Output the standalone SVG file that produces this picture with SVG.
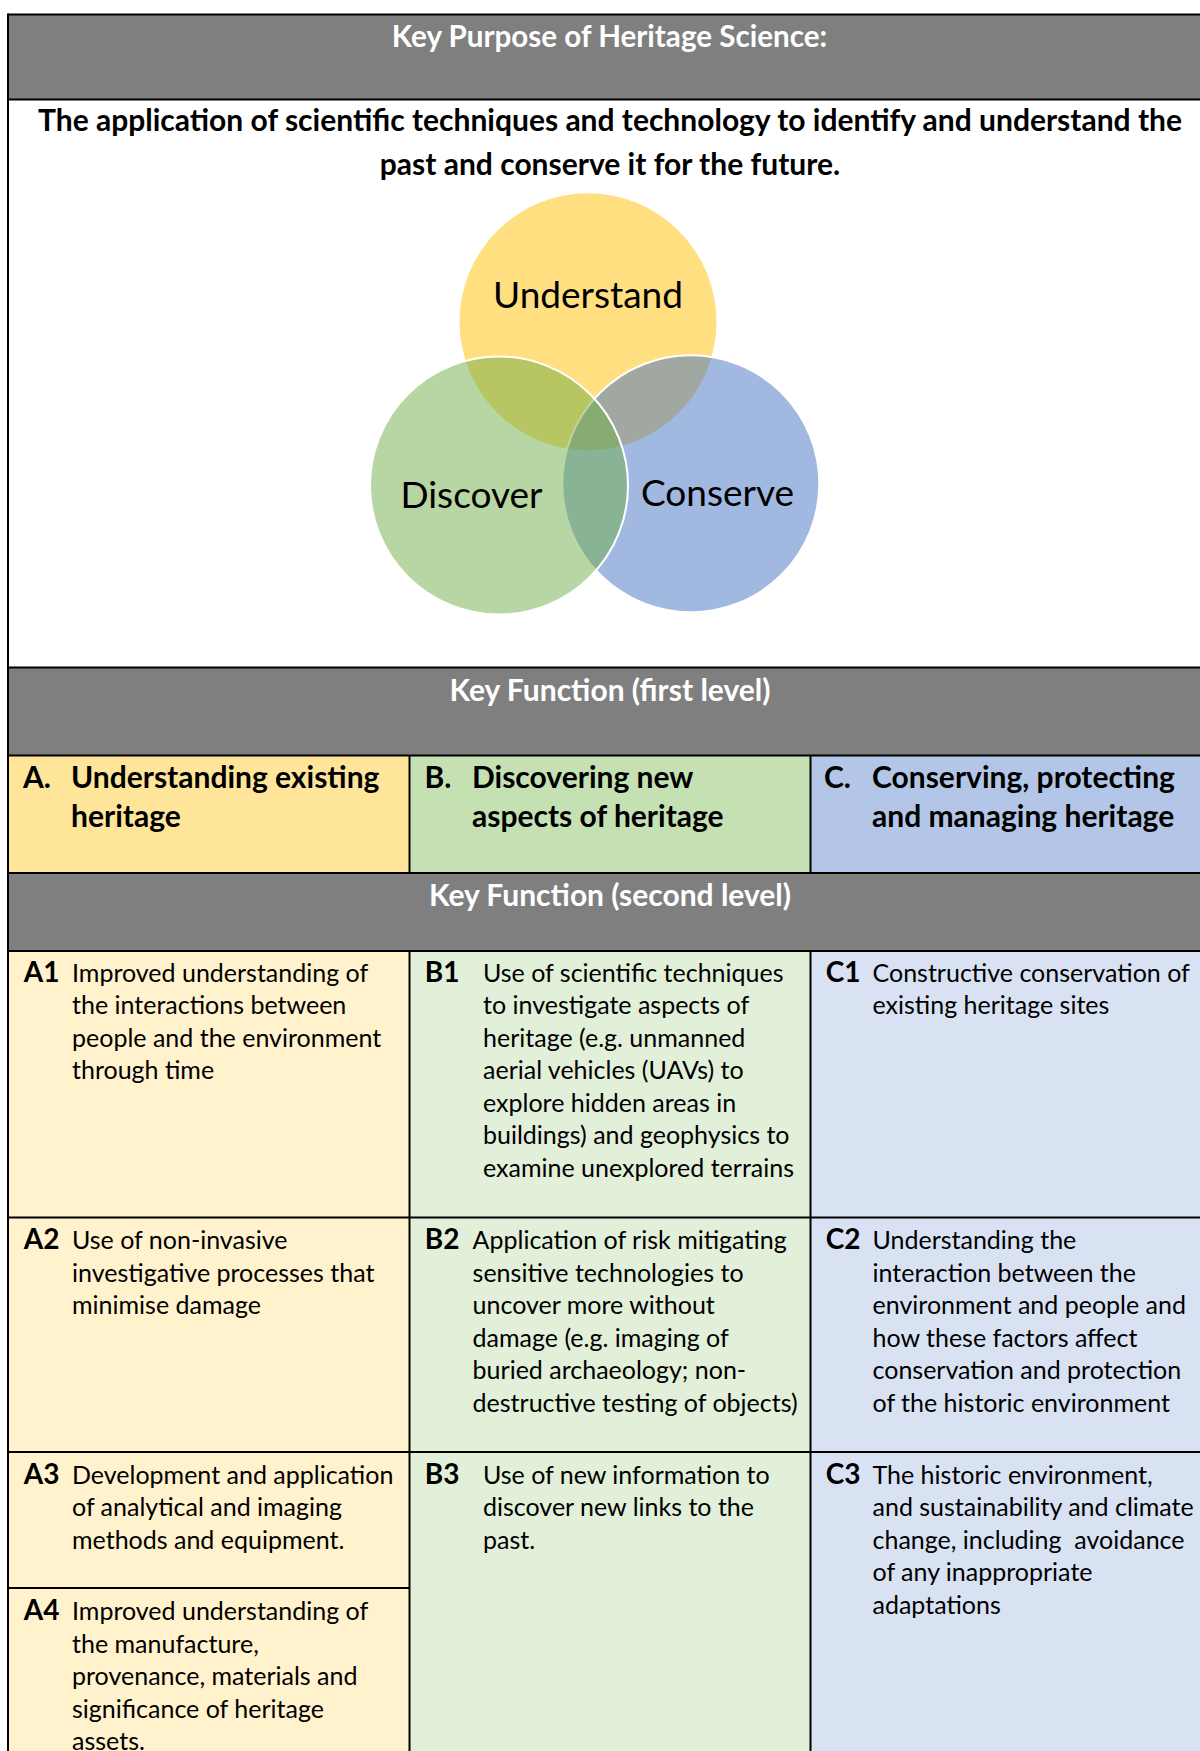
<svg xmlns="http://www.w3.org/2000/svg" width="1200" height="1751" viewBox="0 0 1200 1751">
  <style>
    text { font-family: Lato, "Open Sans", "Liberation Sans", sans-serif; fill: #000; }
    .hdr { font-weight: 700; font-size: 30px; fill: #fff; text-anchor: middle; }
    .stmt { font-weight: 700; font-size: 30px; text-anchor: middle; }
    .venn { font-size: 37px; text-anchor: middle; }
    .kf { font-weight: 700; font-size: 30px; }
    .lbl { font-weight: 700; font-size: 28px; }
    .body { font-size: 25px; }
    .pre { white-space: pre; }
    .grid { stroke: #000; stroke-width: 2; fill: none; }
    .arc { stroke: #fff; stroke-width: 2; }
  </style>

  <!-- Row fills -->
  <g id="fills">
    <rect x="8" y="14.5" width="1192" height="85" fill="#7f7f7f"/>
    <rect x="8" y="99.5" width="1192" height="568" fill="#fff"/>
    <rect x="8" y="667.5" width="1192" height="88" fill="#7f7f7f"/>
    <rect x="8" y="755.5" width="401.5" height="117.5" fill="#ffe599"/>
    <rect x="409.5" y="755.5" width="401" height="117.5" fill="#c5e0b3"/>
    <rect x="810.5" y="755.5" width="389.5" height="117.5" fill="#b4c6e7"/>
    <rect x="8" y="873" width="1192" height="78" fill="#7f7f7f"/>
    <rect x="8" y="951" width="401.5" height="800" fill="#fff2cc"/>
    <rect x="409.5" y="951" width="401" height="800" fill="#e2efd9"/>
    <rect x="810.5" y="951" width="389.5" height="800" fill="#d9e2f3"/>
  </g>

  <!-- Table rules -->
  <g id="connectors" class="grid">
    <line x1="8" y1="14.5" x2="1200" y2="14.5"/>
    <line x1="8" y1="99.5" x2="1200" y2="99.5"/>
    <line x1="8" y1="667.5" x2="1200" y2="667.5"/>
    <line x1="8" y1="755.5" x2="1200" y2="755.5"/>
    <line x1="8" y1="873" x2="1200" y2="873"/>
    <line x1="8" y1="951" x2="1200" y2="951"/>
    <line x1="8" y1="1217.5" x2="1200" y2="1217.5"/>
    <line x1="8" y1="1452" x2="1200" y2="1452"/>
    <line x1="8" y1="1588" x2="409.5" y2="1588"/>
    <line x1="8" y1="13.5" x2="8" y2="1751"/>
    <line x1="409.5" y1="755.5" x2="409.5" y2="873"/>
    <line x1="810.5" y1="755.5" x2="810.5" y2="873"/>
    <line x1="409.5" y1="951" x2="409.5" y2="1751"/>
    <line x1="810.5" y1="951" x2="810.5" y2="1751"/>
  </g>

  <!-- Key purpose -->
  <g id="purpose">
    <text class="hdr" x="609.5" y="46.5" style="font-size:29.6px">Key Purpose of Heritage Science:</text>
    <text class="stmt" x="610" y="131">The application of scientific techniques and technology to identify and understand the</text>
    <text class="stmt" x="610" y="175">past and conserve it for the future.</text>
  </g>

  <!-- Venn diagram: Understand, Conserve, Discover (stacked, half transparent) -->
  <g id="venn">
    <g id="understand">
      <circle cx="588" cy="321.8" r="128.5" fill="#ffc000" fill-opacity="0.5"/>
    </g>
    <g id="conserve">
      <circle class="arc" cx="690.8" cy="483.7" r="128.5" fill="#4472c4" fill-opacity="0.5"/>
    </g>
    <g id="discover">
      <circle class="arc" cx="499" cy="485.5" r="129" fill="#70ad47" fill-opacity="0.5"/>
    </g>
    <text class="venn" x="588" y="308">Understand</text>
    <text class="venn" x="471.5" y="508">Discover</text>
    <text class="venn" x="717.5" y="506">Conserve</text>
  </g>

  <!-- First level functions -->
  <g id="first-level">
    <text class="hdr" x="610" y="701">Key Function (first level)</text>
    <g id="func-a">
      <text class="kf" x="23" y="787.5">A.</text>
      <text class="kf" x="71" y="787.5">Understanding existing</text>
      <text class="kf" x="71" y="826.5">heritage</text>
    </g>
    <g id="func-b">
      <text class="kf" x="424.6" y="787.5">B.</text>
      <text class="kf" x="472" y="787.5">Discovering new</text>
      <text class="kf" x="472" y="826.5">aspects of heritage</text>
    </g>
    <g id="func-c">
      <text class="kf" x="824" y="787.5">C.</text>
      <text class="kf" x="872" y="787.5">Conserving, protecting</text>
      <text class="kf" x="872" y="826.5">and managing heritage</text>
    </g>
  </g>

  <!-- Second level functions -->
  <g id="second-level">
    <text class="hdr" x="610" y="906">Key Function (second level)</text>

    <g id="a1">
      <text class="lbl" x="23.7" y="981.5">A1</text>
      <text class="body" x="72" y="981.5">Improved understanding of</text>
      <text class="body" x="72" y="1014">the interactions between</text>
      <text class="body" x="72" y="1046.5">people and the environment</text>
      <text class="body" x="72" y="1079">through time</text>
    </g>
    <g id="b1">
      <text class="lbl" x="424.8" y="981.5">B1</text>
      <text class="body" x="483" y="981.5">Use of scientific techniques</text>
      <text class="body" x="483" y="1014">to investigate aspects of</text>
      <text class="body" x="483" y="1046.5">heritage (e.g. unmanned</text>
      <text class="body" x="483" y="1079">aerial vehicles (UAVs) to</text>
      <text class="body" x="483" y="1111.5">explore hidden areas in</text>
      <text class="body" x="483" y="1144">buildings) and geophysics to</text>
      <text class="body" x="483" y="1176.5">examine unexplored terrains</text>
    </g>
    <g id="c1">
      <text class="lbl" x="825.8" y="981.5">C1</text>
      <text class="body" x="872.5" y="981.5">Constructive conservation of</text>
      <text class="body" x="872.5" y="1014">existing heritage sites</text>
    </g>

    <g id="a2">
      <text class="lbl" x="23.7" y="1249">A2</text>
      <text class="body" x="72" y="1249">Use of non-invasive</text>
      <text class="body" x="72" y="1281.5">investigative processes that</text>
      <text class="body" x="72" y="1314">minimise damage</text>
    </g>
    <g id="b2">
      <text class="lbl" x="424.8" y="1249">B2</text>
      <text class="body" x="472.6" y="1249">Application of risk mitigating</text>
      <text class="body" x="472.6" y="1281.5">sensitive technologies to</text>
      <text class="body" x="472.6" y="1314">uncover more without</text>
      <text class="body" x="472.6" y="1346.5">damage (e.g. imaging of</text>
      <text class="body" x="472.6" y="1379">buried archaeology; non-</text>
      <text class="body" x="472.6" y="1411.5">destructive testing of objects)</text>
    </g>
    <g id="c2">
      <text class="lbl" x="825.8" y="1249">C2</text>
      <text class="body" x="872.5" y="1249">Understanding the</text>
      <text class="body" x="872.5" y="1281.5">interaction between the</text>
      <text class="body" x="872.5" y="1314">environment and people and</text>
      <text class="body" x="872.5" y="1346.5">how these factors affect</text>
      <text class="body" x="872.5" y="1379">conservation and protection</text>
      <text class="body" x="872.5" y="1411.5">of the historic environment</text>
    </g>

    <g id="a3">
      <text class="lbl" x="23.7" y="1483.5">A3</text>
      <text class="body" x="72" y="1483.5">Development and application</text>
      <text class="body" x="72" y="1516">of analytical and imaging</text>
      <text class="body" x="72" y="1548.5">methods and equipment.</text>
    </g>
    <g id="a4">
      <text class="lbl" x="23.7" y="1620">A4</text>
      <text class="body" x="72" y="1620">Improved understanding of</text>
      <text class="body" x="72" y="1652.5">the manufacture,</text>
      <text class="body" x="72" y="1685">provenance, materials and</text>
      <text class="body" x="72" y="1717.5">significance of heritage</text>
      <text class="body" x="72" y="1750">assets.</text>
    </g>
    <g id="b3">
      <text class="lbl" x="424.8" y="1483.5">B3</text>
      <text class="body" x="483" y="1483.5">Use of new information to</text>
      <text class="body" x="483" y="1516">discover new links to the</text>
      <text class="body" x="483" y="1548.5">past.</text>
    </g>
    <g id="c3">
      <text class="lbl" x="825.8" y="1483.5">C3</text>
      <text class="body" x="872.5" y="1483.5">The historic environment,</text>
      <text class="body" x="872.5" y="1516">and sustainability and climate</text>
      <text class="body pre" x="872.5" y="1548.5">change, including  avoidance</text>
      <text class="body" x="872.5" y="1581">of any inappropriate</text>
      <text class="body" x="872.5" y="1613.5">adaptations</text>
    </g>
  </g>
</svg>
